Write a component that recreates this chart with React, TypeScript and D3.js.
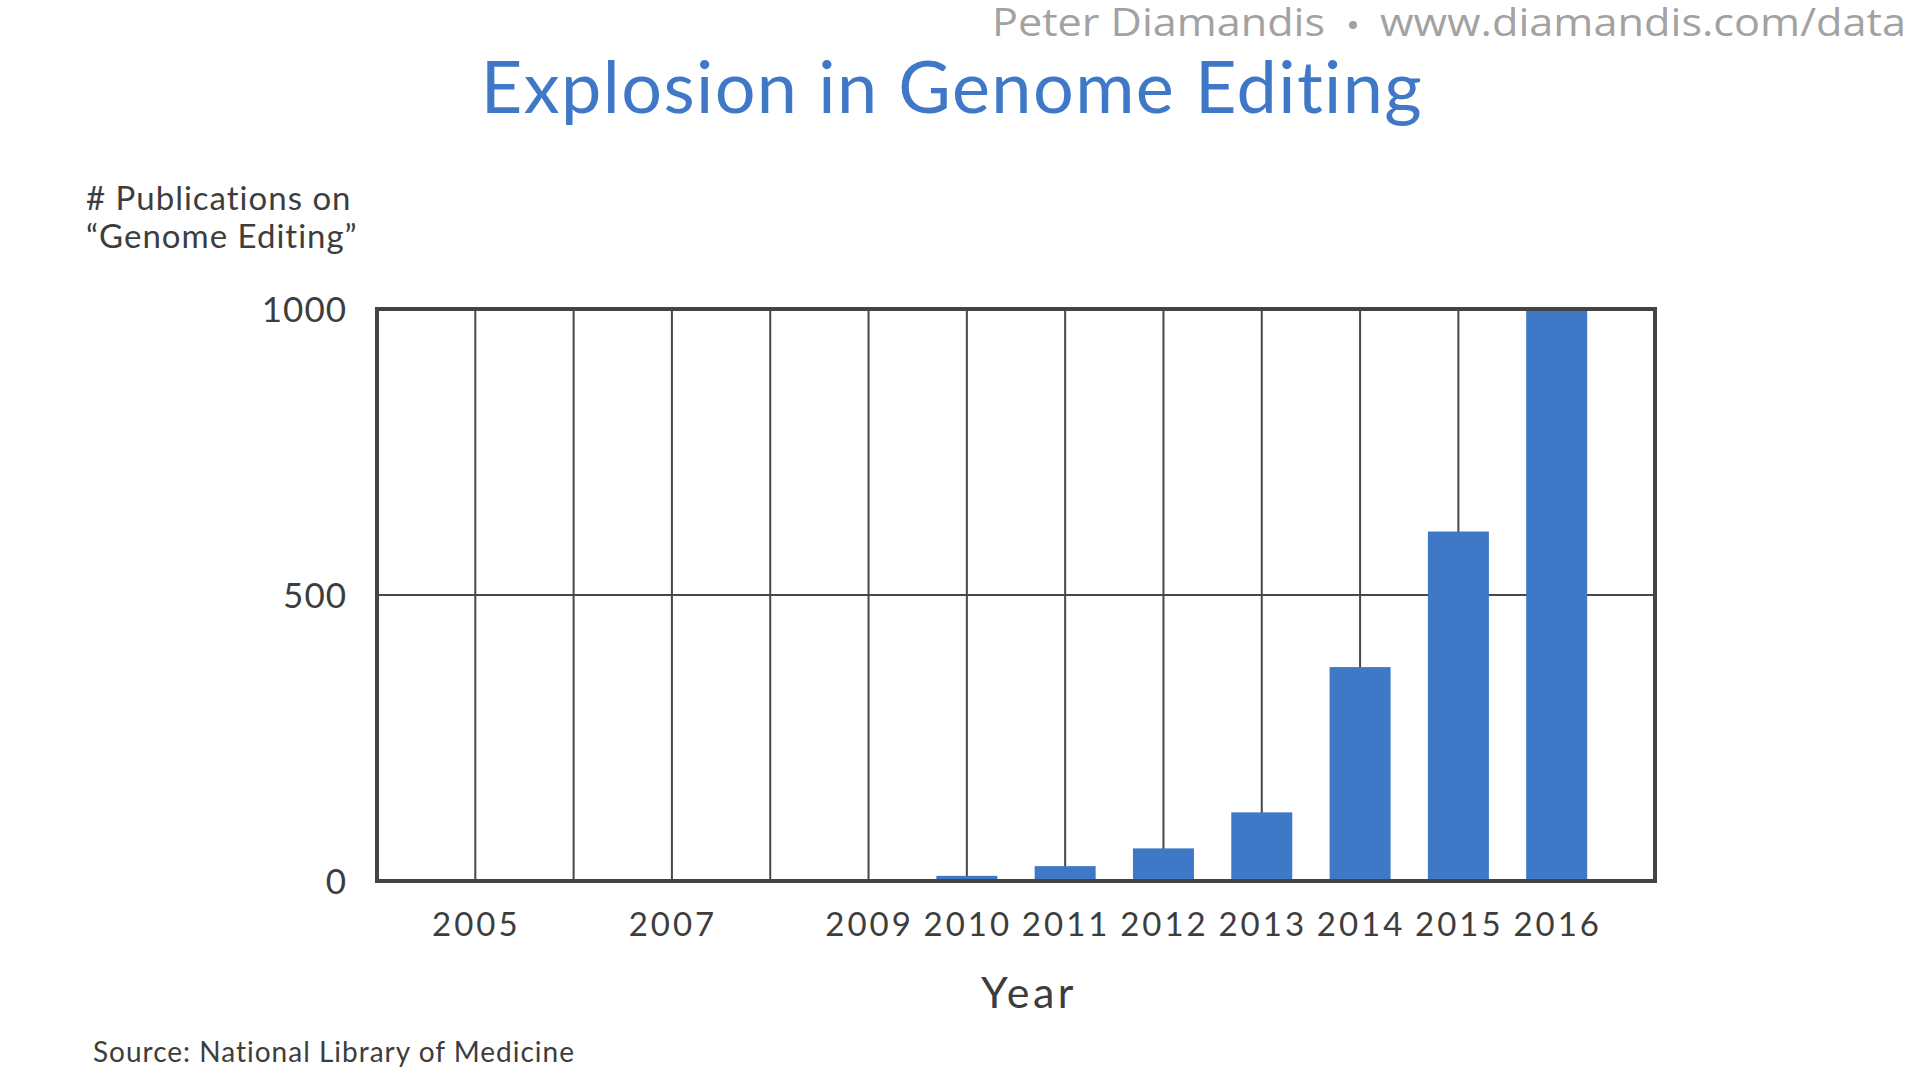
import { useEffect, useRef } from "react";
import * as d3 from "d3";

// publications per year
const YEARS = [2005, 2006, 2007, 2008, 2009, 2010, 2011, 2012, 2013, 2014, 2015, 2016];
const PUBLICATIONS = [0, 0, 0, 0, 0, 9, 26, 57, 120, 374, 611, 1000];
const X_TICK_LABELS = [2005, 2007, 2009, 2010, 2011, 2012, 2013, 2014, 2015, 2016];
const Y_TICKS = [0, 500, 1000];

const WIDTH = 1920;
const HEIGHT = 1080;
const FONT = "Lato, 'Open Sans', sans-serif";
const MARK_FONT = "'Open Sans', 'Noto Sans', sans-serif";
const BLUE = "#4078c8";
const INK = "#3d3d3d";
const GREY = "#a2a2a2";

const App: React.FC = () => {
  const svgRef = useRef<SVGSVGElement>(null);

  useEffect(() => {
    if (!svgRef.current) return;
    const svg = d3.select(svgRef.current);
    svg.selectAll("*").remove();

    const x = d3.scaleLinear().domain([2004, 2017]).range([377, 1655]);
    const y = d3.scaleLinear().domain([0, 1000]).range([881, 309]);
    const barW = 61;

    svg.append("rect").attr("width", WIDTH).attr("height", HEIGHT).attr("fill", "#fff");

    // watermark: name, bullet, url
    const mark = svg
      .append("g")
      .attr("font-family", MARK_FONT)
      .attr("font-size", 38)
      .attr("fill", GREY);
    mark
      .append("text")
      .attr("x", 992)
      .attr("y", 36)
      .attr("textLength", 333)
      .attr("lengthAdjust", "spacingAndGlyphs")
      .text("Peter Diamandis");
    mark.append("circle").attr("cx", 1353).attr("cy", 25).attr("r", 4).attr("fill", GREY);
    mark
      .append("text")
      .attr("x", 1380)
      .attr("y", 36)
      .attr("textLength", 526)
      .attr("lengthAdjust", "spacingAndGlyphs")
      .text("www.diamandis.com/data");

    // title
    svg
      .append("text")
      .attr("x", 952)
      .attr("y", 113)
      .attr("text-anchor", "middle")
      .attr("font-family", FONT)
      .attr("font-size", 72)
      .attr("letter-spacing", 1.4)
      .attr("fill", BLUE)
      .text("Explosion in Genome Editing");

    // y axis title, two lines
    const yTitle = svg
      .append("text")
      .attr("font-family", FONT)
      .attr("font-size", 33)
      .attr("letter-spacing", 1)
      .attr("fill", INK);
    yTitle.append("tspan").attr("x", 86).attr("y", 210).text("# Publications on");
    yTitle.append("tspan").attr("x", 86).attr("y", 248).text("\u201cGenome Editing\u201d");

    const grid = svg.append("g").attr("stroke", "#474747");

    // vertical gridlines at every year
    grid
      .selectAll("line.v")
      .data(YEARS)
      .join("line")
      .attr("class", "v")
      .attr("x1", (d) => x(d))
      .attr("x2", (d) => x(d))
      .attr("y1", y(1000))
      .attr("y2", y(0))
      .attr("stroke-width", 2);

    // horizontal gridline(s)
    grid
      .selectAll("line.h")
      .data(Y_TICKS.filter((t) => t > 0 && t < 1000))
      .join("line")
      .attr("class", "h")
      .attr("x1", x(2004))
      .attr("x2", x(2017))
      .attr("y1", (d) => y(d))
      .attr("y2", (d) => y(d))
      .attr("stroke-width", 2);

    // bars
    const data = YEARS.map((yr, i) => ({ year: yr, value: PUBLICATIONS[i] })).filter(
      (d) => d.value > 0
    );
    svg
      .append("g")
      .selectAll("rect")
      .data(data)
      .join("rect")
      .attr("x", (d) => x(d.year) - barW / 2)
      .attr("width", barW)
      .attr("y", (d) => y(d.value))
      .attr("height", (d) => y(0) - y(d.value) + 2)
      .attr("fill", BLUE);

    // frame: top, left, right, bottom
    const frame = svg.append("g").attr("stroke", "#444").attr("stroke-width", 4).attr("fill", "none");
    frame
      .append("path")
      .attr("d", `M${x(2004)},${y(0)}V${y(1000)}H${x(2017)}V${y(0)}`);
    frame
      .append("line")
      .attr("x1", x(2004) - 2)
      .attr("x2", x(2017) + 2)
      .attr("y1", y(0))
      .attr("y2", y(0));

    // y tick labels
    svg
      .append("g")
      .selectAll("text")
      .data(Y_TICKS)
      .join("text")
      .attr("x", 347)
      .attr("y", (d) => y(d) + 12.5)
      .attr("text-anchor", "end")
      .attr("font-family", FONT)
      .attr("font-size", 35)
      .attr("letter-spacing", 1)
      .attr("fill", INK)
      .text((d) => d);

    // x tick labels
    svg
      .append("g")
      .selectAll("text")
      .data(X_TICK_LABELS)
      .join("text")
      .attr("x", (d) => x(d) + 1)
      .attr("y", 936)
      .attr("text-anchor", "middle")
      .attr("font-family", FONT)
      .attr("font-size", 33)
      .attr("letter-spacing", 3)
      .attr("fill", INK)
      .text((d) => d);

    // x axis title
    svg
      .append("text")
      .attr("x", 1029)
      .attr("y", 1008)
      .attr("text-anchor", "middle")
      .attr("font-family", FONT)
      .attr("font-size", 43)
      .attr("letter-spacing", 3.5)
      .attr("fill", INK)
      .text("Year");

    // source note
    svg
      .append("text")
      .attr("x", 93)
      .attr("y", 1062)
      .attr("font-family", FONT)
      .attr("font-size", 28)
      .attr("letter-spacing", 1)
      .attr("fill", INK)
      .text("Source: National Library of Medicine");
  }, []);

  return (
    <div style={{ position: "absolute", left: 0, top: 0 }}>
      <svg ref={svgRef} width={WIDTH} height={HEIGHT} style={{ display: "block" }} />
    </div>
  );
};

export default App;
